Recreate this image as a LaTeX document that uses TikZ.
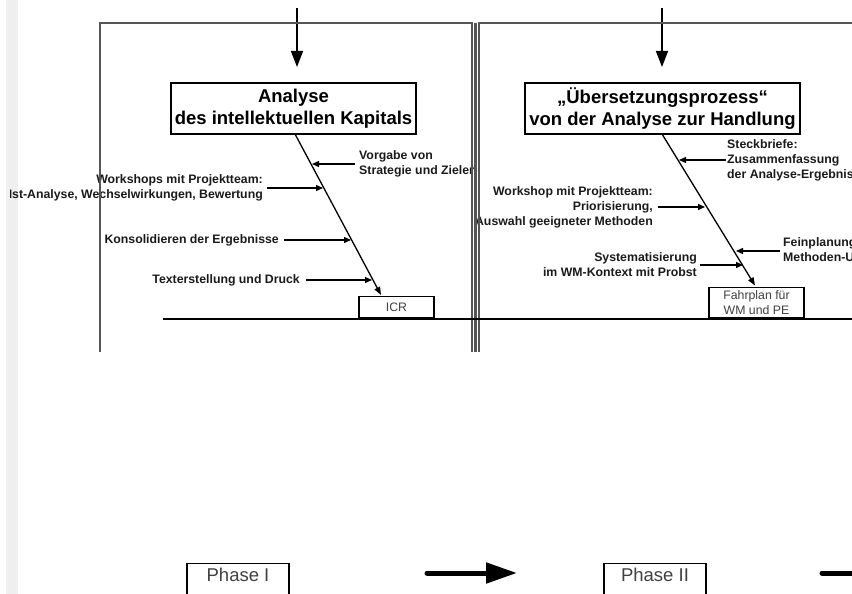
\documentclass[tikz,border=0pt]{standalone}
\usepackage{fontspec}
\setmainfont{Liberation Sans}
\usetikzlibrary{arrows.meta,calc}
\definecolor{framegray}{HTML}{555555}
\definecolor{stripgray}{HTML}{EFEFEF}
\definecolor{labelcol}{HTML}{1A1A1A}
\definecolor{boxtext}{HTML}{404040}
\begin{document}
\begin{tikzpicture}[x=1pt,y=-1pt,
  framestyle/.style={draw=framegray, line width=2.2pt},
  titlebox/.style={draw=black, line width=1.6pt, fill=white, align=center,
    font=\fontsize{18.5}{21.5}\selectfont\bfseries, inner sep=0pt, minimum height=51pt},
  lbl/.style={font=\fontsize{12.3}{15}\selectfont\bfseries, text=labelcol, inner sep=0pt},
  branch/.style={draw=black, line width=1.3pt, -{Triangle[length=7pt,width=6pt]}},
  spine/.style={draw=black, line width=1.3pt, -{Triangle[length=8pt,width=6pt]}},
  toparrow/.style={draw=black, line width=1.6pt, -{Triangle[length=16pt,width=12pt]}},
  resultbox/.style={draw=black, line width=1.6pt, fill=white, align=center, text=boxtext,
    font=\fontsize{12.3}{15}\selectfont, inner sep=0pt},
  phasebox/.style={draw=black, line width=1.2pt, minimum width=102pt, minimum height=40pt, inner sep=0pt},
  phasetext/.style={font=\fontsize{18.5}{20}\selectfont, text=boxtext, inner sep=0pt},
  phasearrow/.style={draw=black, line width=5pt, line cap=round, -{Triangle[length=31pt,width=20pt]}}
]
\useasboundingbox (0,0) rectangle (852,594);
\clip (0,0) rectangle (852,594);
\fill[stripgray] (6,0) rectangle (18,594);

% top arrows
\coordinate (ta1) at (297,8);
\coordinate (tb1) at (297,67);
\coordinate (ta2) at (662,8);
\coordinate (tb2) at (662,67);
\draw[toparrow] (ta1) -- (tb1);
\draw[toparrow] (ta2) -- (tb2);

% titles
\node[titlebox, minimum width=245pt] (t1) at (293.5,108.5) {Analyse\\des intellektuellen Kapitals};
\node[titlebox, minimum width=275pt] (t2) at (662.5,108.5) {„Übersetzungsprozess“\\von der Analyse zur Handlung};

% spines
\coordinate (s1a) at (295,134);
\coordinate (s1b) at (381,295);
\coordinate (s2a) at (662,134);
\coordinate (s2b) at (755,285.5);
\draw[spine] (s1a) -- (s1b);
\draw[spine] (s2a) -- (s2b);

% left labels
\node[lbl, anchor=west, align=left] (l1) at (359,164) {Vorgabe von\\Strategie und Zielen};
\begin{scope}
\clip (10.8,0) rectangle (852,594);
\node[lbl, anchor=east, align=right] (l2) at (263,188) {Workshops mit Projektteam:\\Ist-Analyse, Wechselwirkungen, Bewertung};
\end{scope}
\node[lbl, anchor=east] (l3) at (279,240) {Konsolidieren der Ergebnisse};
\node[lbl, anchor=east] (l4) at (300,280) {Texterstellung und Druck};

\coordinate (b1) at (312,164);
\coordinate (b2) at (323,188);
\coordinate (b3) at (351,240);
\coordinate (b4) at (372,280);
\draw[branch] ([xshift=-4pt]l1.west) -- (b1);
\draw[branch] ([xshift=4pt]l2.east) -- (b2);
\draw[branch] ([xshift=5pt]l3.east) -- (b3);
\draw[branch] ([xshift=6pt]l4.east) -- (b4);

% right labels
\node[lbl, anchor=west, align=left] (r1) at (727,160) {Steckbriefe:\\Zusammenfassung\\der Analyse-Ergebnisse};
\node[lbl, anchor=east, align=right] (r2) at (653,207) {Workshop mit Projektteam:\\Priorisierung,\\Auswahl geeigneter Methoden};
\node[lbl, anchor=east, align=right] (r3) at (697,265) {Systematisierung\\im WM-Kontext mit Probst};
\node[lbl, anchor=west, align=left] (r4) at (783,251) {Feinplanung\\Methoden-Umsetzung};

\coordinate (c1) at (679,160);
\coordinate (c2) at (705,207);
\coordinate (c3) at (743,265);
\coordinate (c4) at (736,251);
\draw[branch] ([xshift=-1pt]r1.west) -- (c1);
\draw[branch] ([xshift=5pt]r2.east) -- (c2);
\draw[branch] ([xshift=3pt]r3.east) -- (c3);
\draw[branch] ([xshift=-3pt]r4.west) -- (c4);

% frames
\draw[framestyle] (100,352) -- (100,23) -- (472,23) -- (472,352);
\draw[framestyle] (475.5,23) -- (475.5,352);
\draw[framestyle] (479,352) -- (479,23) -- (860,23);

% main line
\coordinate (m1) at (163,318.5);
\coordinate (m2) at (860,318.5);
\draw[black, line width=2pt] (m1) -- (m2);

% result boxes
\node[resultbox, minimum width=75pt, minimum height=21pt] (icr) at (396.5,307) {ICR};
\node[resultbox, minimum width=95pt, minimum height=30pt] (fp) at (756.5,302.5) {Fahrplan für\\WM und PE};

% phases
\node[phasebox, anchor=north] (p1) at (238,563) {};
\node[phasetext] (p1t) at (238,574.5) {Phase I};
\node[phasebox, anchor=north] (p2) at (655,563) {};
\node[phasetext] (p2t) at (655,574.5) {Phase II};
\coordinate (pa1) at (427,573);
\coordinate (pb1) at (517,573);
\coordinate (pa2) at (822,573);
\coordinate (pb2) at (912,573);
\draw[phasearrow] (pa1) -- (pb1);
\draw[phasearrow] (pa2) -- (pb2);
\end{tikzpicture}
\end{document}
